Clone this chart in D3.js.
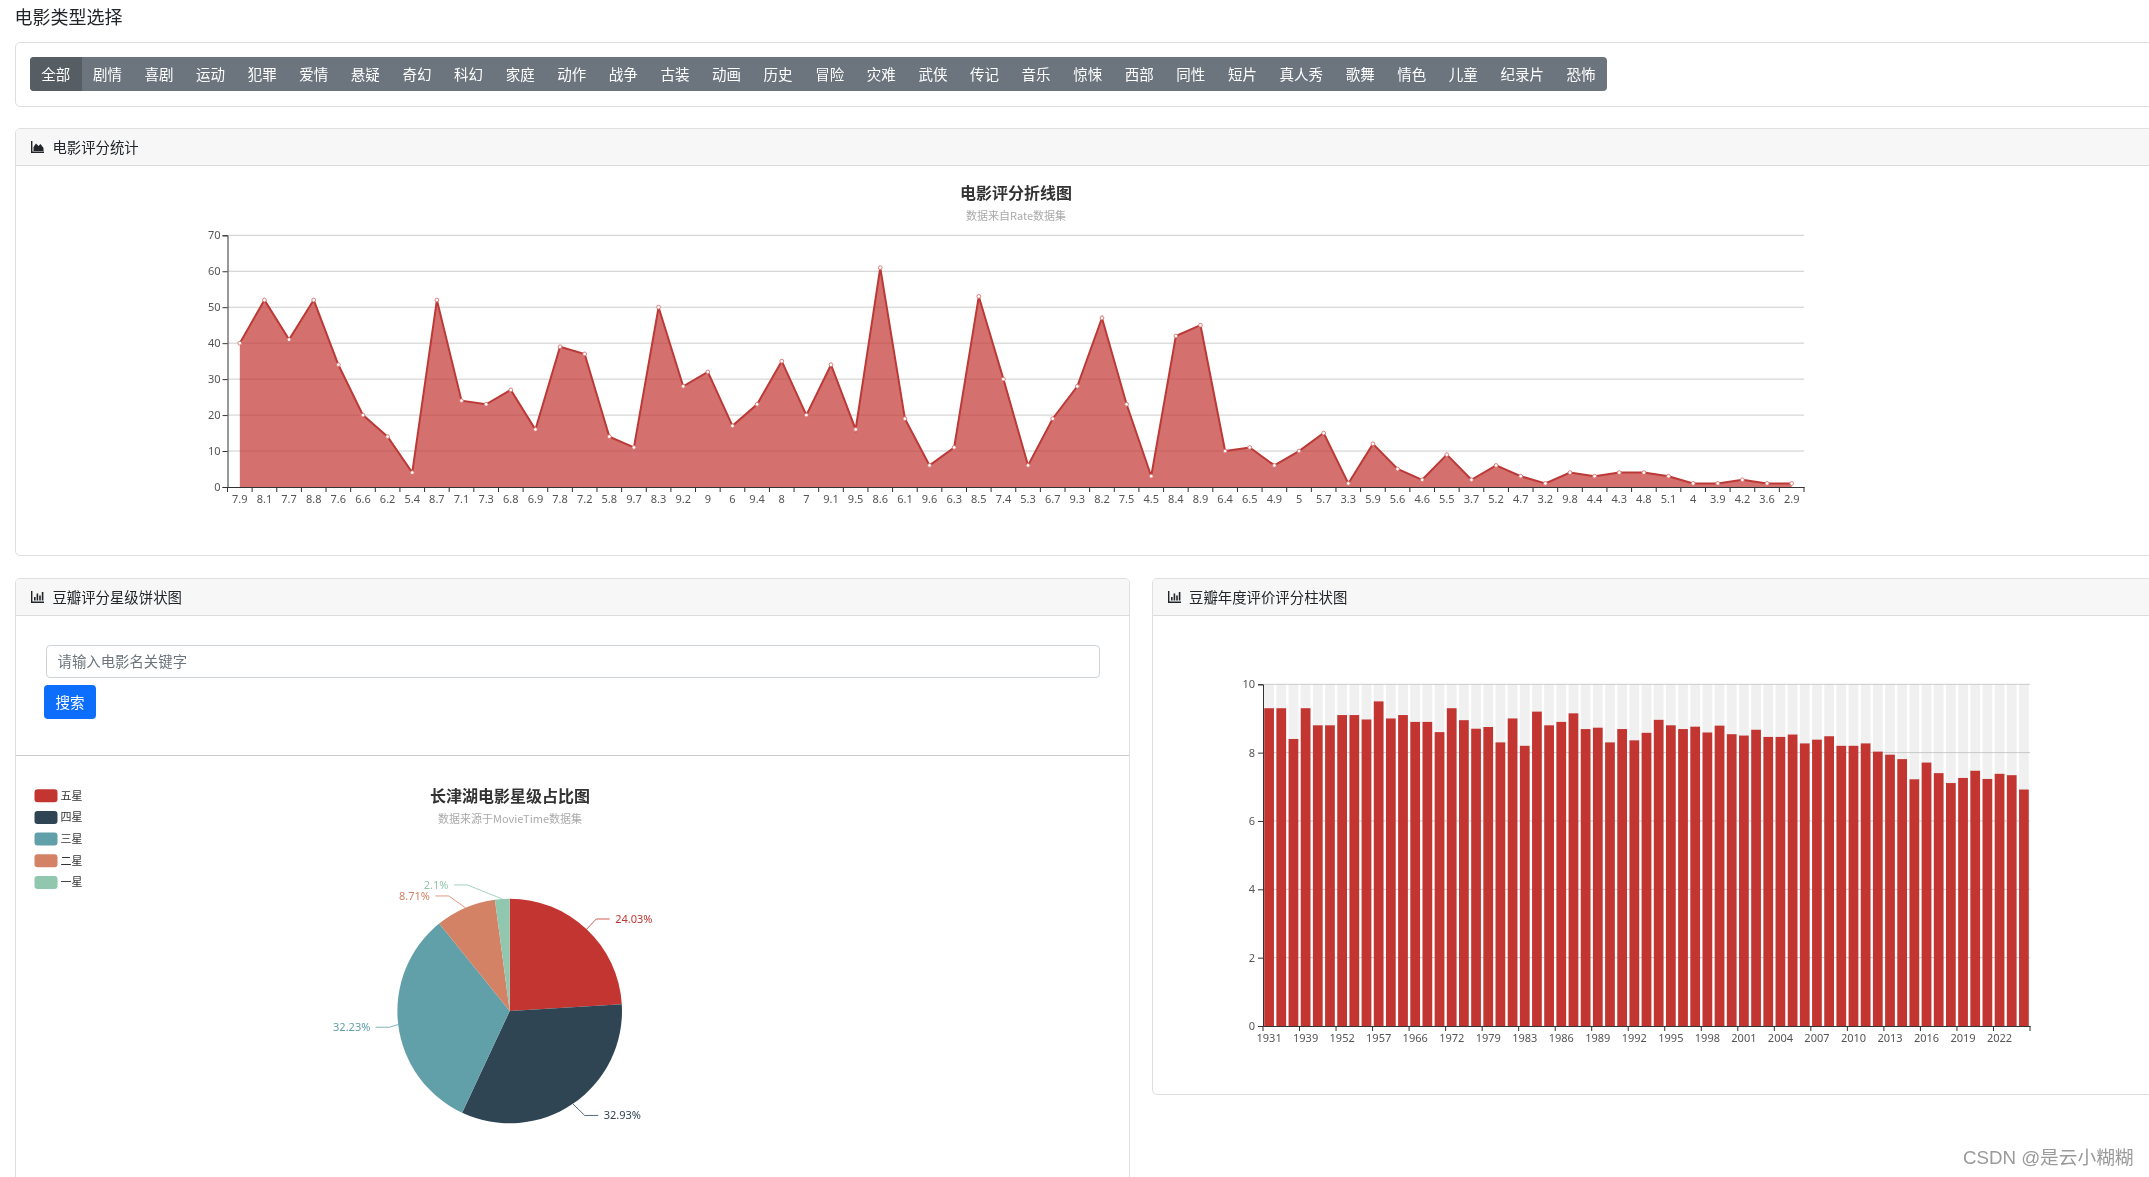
<!DOCTYPE html>
<html lang="zh">
<head>
<meta charset="utf-8">
<title>电影评分</title>
<script src="https://cdn.jsdelivr.net/npm/d3@7"></script>
<style>
  html, body { margin: 0; padding: 0; background: #fff; }
  body { width: 2149px; height: 1177px; overflow: hidden; position: relative;
         font-family: "Noto Sans CJK SC", "Noto Sans", sans-serif; color: #212529;
         filter: blur(0.4px); }
  .abs { position: absolute; box-sizing: border-box; }
  .card { border: 1.4px solid #dfdfdf; border-radius: 5px; background: #fff; }
  .card-head { left: 0; right: 0; top: 0; height: 37px; background: #f7f7f7;
               border-bottom: 1.4px solid #dcdcdc; border-radius: 4px 4px 0 0; }
  .card-title { font-size: 14.4px; line-height: 20px; white-space: nowrap; }
  .btn-group { display: flex; background: #6c757d; border-radius: 4px; overflow: hidden; }
  .btn-group div { color: #fff; font-size: 14.5px; line-height: 33.7px; padding: 0 11.3px;
                   white-space: nowrap; }
  .btn-group div.active { background: #565e64; }
  svg { position: absolute; left: 0; top: 0; }
  svg text { font-family: "Noto Sans", "Noto Sans CJK SC", sans-serif; }
  .tick text { font-size: 11px; fill: #555; }
  .chart-title { font-family: "Noto Sans CJK SC", sans-serif; font-size: 16px; font-weight: 700;
                 fill: #333; text-anchor: middle; }
  .chart-sub { font-family: "Noto Sans CJK SC", sans-serif; font-size: 11px; fill: #aaa;
               text-anchor: middle; }
</style>
</head>
<body>
<script>
// ---- data ----
const genreNames = ['全部', '剧情', '喜剧', '运动', '犯罪', '爱情', '悬疑', '奇幻', '科幻', '家庭',
  '动作', '战争', '古装', '动画', '历史', '冒险', '灾难', '武侠', '传记', '音乐',
  '惊悚', '西部', '同性', '短片', '真人秀', '歌舞', '情色', '儿童', '纪录片', '恐怖'];

const rateLabels = ['7.9', '8.1', '7.7', '8.8', '7.6', '6.6', '6.2', '5.4', '8.7', '7.1', '7.3', '6.8', '6.9',
  '7.8', '7.2', '5.8', '9.7', '8.3', '9.2', '9', '6', '9.4', '8', '7', '9.1', '9.5', '8.6', '6.1', '9.6', '6.3',
  '8.5', '7.4', '5.3', '6.7', '9.3', '8.2', '7.5', '4.5', '8.4', '8.9', '6.4', '6.5', '4.9', '5', '5.7', '3.3',
  '5.9', '5.6', '4.6', '5.5', '3.7', '5.2', '4.7', '3.2', '9.8', '4.4', '4.3', '4.8', '5.1', '4', '3.9', '4.2',
  '3.6', '2.9'];
const rateCounts = [40, 52, 41, 52, 34, 20, 14, 4, 52, 24, 23, 27, 16,
  39, 37, 14, 11, 50, 28, 32, 17, 23, 35, 20, 34, 16, 61, 19, 6, 11,
  53, 30, 6, 19, 28, 47, 23, 3, 42, 45, 10, 11, 6, 10, 15, 1,
  12, 5, 2, 9, 2, 6, 3, 1, 4, 3, 4, 4, 3, 1, 1, 2,
  1, 1];

const starLabels = ['五星', '四星', '三星', '二星', '一星'];
const starShares = [24.03, 32.93, 32.23, 8.71, 2.1];

// only every third year is printed in the picture, the ones in between are guesses
const barYears = [1931, 1933, 1936, 1939, 1941, 1948, 1952, 1953, 1955, 1957, 1959, 1964,
  1966, 1968, 1971, 1972, 1974, 1975, 1979, 1980, 1982, 1983, 1984, 1985,
  1986, 1987, 1988, 1989, 1990, 1991, 1992, 1993, 1994, 1995, 1996, 1997, 1998, 1999, 2000,
  2001, 2002, 2003, 2004, 2005, 2006, 2007, 2008, 2009, 2010, 2011, 2012, 2013, 2014, 2015,
  2016, 2017, 2018, 2019, 2020, 2021, 2022, 2023, 2024];
const barScores = [9.3, 9.3, 8.4, 9.3, 8.8, 8.8, 9.1, 9.1, 8.97, 9.5, 9.0, 9.1,
  8.9, 8.9, 8.6, 9.3, 8.95, 8.7, 8.75, 8.3, 9.0, 8.2, 9.2, 8.8,
  8.9, 9.15, 8.69, 8.73, 8.3, 8.69, 8.36, 8.58, 8.96, 8.8, 8.69, 8.76, 8.59, 8.79, 8.54,
  8.5, 8.67, 8.46, 8.46, 8.53, 8.27, 8.38, 8.48, 8.2, 8.2, 8.27, 8.03, 7.94, 7.81, 7.22,
  7.71, 7.4, 7.11, 7.26, 7.47, 7.23, 7.38, 7.34, 6.92];

const palette = ['#c23531', '#2f4554', '#61a0a8', '#d48265', '#91c7ae'];
const axisColor = '#333';
const gridColor = '#ccc';

const body = d3.select('body');

// ---- page furniture ----
const place = (sel, left, top, width, height) => sel
  .style('left', left + 'px').style('top', top + 'px')
  .style('width', width === null ? null : width + 'px')
  .style('height', height === null ? null : height + 'px');

const iconPaths = {
  area: 'M0 0V12H13V10.6H1.4V0ZM2.5 10V6L5 2.5L7.5 5L9.5 3L12.5 7V10Z',
  bars: 'M0 0V12H13V10.6H1.4V0ZM3 9.6V6H4.6V9.6ZM5.6 9.6V2.5H7.2V9.6ZM8.2 9.6V4.5H9.8V9.6ZM10.8 9.6V1H12.4V9.6Z'
};

const addCard = (left, top, width, height, title, icon) => {
  const card = place(body.append('div').attr('class', 'abs card'), left, top, width, height);
  if (title) {
    card.append('div').attr('class', 'abs card-head');
    const svg = card.append('svg').attr('width', 14).attr('height', 13)
      .style('left', '14.5px').style('top', '12px');
    svg.append('path').attr('d', iconPaths[icon]).attr('fill', '#212529');
    place(card.append('div').attr('class', 'abs card-title'), 36, 7.6, null, null).text(title);
  }
  return card;
};

place(body.append('div').attr('class', 'abs'), 14.6, 2.8, null, null)
  .style('font-size', '18px').style('line-height', '26px')
  .text('电影类型选择');

addCard(15.4, 42.3, 2200, 64.4);
addCard(15.4, 128.3, 2200, 428, '电影评分统计', 'area');
addCard(15.4, 578.3, 1114.6, 700, '豆瓣评分星级饼状图', 'bars');
addCard(1152, 578.3, 1100, 517, '豆瓣年度评价评分柱状图', 'bars');

const btnGroup = place(body.append('div').attr('class', 'abs btn-group'), 30, 57, null, 33.7);
btnGroup.selectAll('div').data(genreNames).enter().append('div')
  .attr('class', (d, i) => i === 0 ? 'active' : null)
  .text(d => d);

place(body.append('div').attr('class', 'abs'), 45.5, 645, 1054.5, 33)
  .style('border', '1.4px solid #ced4da').style('border-radius', '4px')
  .style('padding-left', '11px').style('font-size', '14.4px').style('line-height', '30px')
  .style('color', '#6c757d').text('请输入电影名关键字');

place(body.append('div').attr('class', 'abs'), 44, 685, 52, 34)
  .style('background', '#0d6efd').style('border-radius', '4px').style('color', '#fff')
  .style('font-size', '14.5px').style('line-height', '34px').style('text-align', 'center')
  .text('搜索');

place(body.append('div').attr('class', 'abs'), 16, 755, 1113, 1.4).style('background', '#ccc');

place(body.append('div').attr('class', 'abs'), 1963, 1145, null, null)
  .style('font-family', '"Liberation Sans", "Noto Sans CJK SC", sans-serif')
  .style('font-size', '18.7px').style('line-height', '25px').style('color', '#9a9a9a')
  .style('white-space', 'nowrap').text('CSDN @是云小糊糊');

const svg = body.append('svg').attr('width', 2149).attr('height', 1177);

// cleans an axis selection up the way the reference looks
const styleAxis = (g) => {
  g.select('.domain').attr('stroke', axisColor);
  g.selectAll('.tick line').attr('stroke', axisColor);
};

// ---- area line chart ----
const lineBox = { left: 227.5, right: 1804, top: 235.3, bottom: 487 };
const lineX = d3.scaleBand().domain(rateLabels).range([lineBox.left, lineBox.right]);
const lineY = d3.scaleLinear().domain([0, 70]).range([lineBox.bottom, lineBox.top]);
const lineTicks = d3.range(0, 71, 10);

const lineChart = svg.append('g');
lineChart.append('text').attr('class', 'chart-title').attr('x', 1016).attr('y', 198.5).text('电影评分折线图');
lineChart.append('text').attr('class', 'chart-sub').attr('x', 1016).attr('y', 219.5).text('数据来自Rate数据集');

lineChart.append('g').selectAll('line').data(lineTicks.slice(1)).enter().append('line')
  .attr('x1', lineBox.left).attr('x2', lineBox.right)
  .attr('y1', d => lineY(d)).attr('y2', d => lineY(d))
  .attr('stroke', gridColor);

const centre = (d) => lineX(d) + lineX.bandwidth() / 2;
const area = d3.area()
  .x(d => centre(d.rate))
  .y0(lineY(0))
  .y1(d => lineY(d.count));
const linePath = d3.line()
  .x(d => centre(d.rate))
  .y(d => lineY(d.count));
const linePoints = rateLabels.map((rate, i) => ({ rate: rate, count: rateCounts[i] }));

lineChart.append('path').datum(linePoints).attr('d', area)
  .attr('fill', palette[0]).attr('fill-opacity', 0.7);
lineChart.append('path').datum(linePoints).attr('d', linePath)
  .attr('fill', 'none').attr('stroke', '#bb3a37').attr('stroke-width', 2);
lineChart.append('g').selectAll('circle').data(linePoints).enter().append('circle')
  .attr('cx', d => centre(d.rate)).attr('cy', d => lineY(d.count)).attr('r', 1.9)
  .attr('fill', '#fff').attr('stroke', '#d9726f').attr('stroke-width', 0.9);

lineChart.append('g')
  .attr('transform', 'translate(' + lineBox.left + ',0)')
  .call(d3.axisLeft(lineY).tickValues(lineTicks).tickSize(5).tickPadding(2).tickFormat(d3.format('d')))
  .call(styleAxis);

lineChart.append('g')
  .attr('transform', 'translate(0,' + lineBox.bottom + ')')
  .call(d3.axisBottom(lineX).tickSize(0).tickPadding(8).tickSizeOuter(0))
  .call(styleAxis);
// ticks sit on the band edges, not under the labels
lineChart.append('g').selectAll('line').data(rateLabels.concat([null])).enter().append('line')
  .attr('x1', d => d === null ? lineBox.right : lineX(d))
  .attr('x2', d => d === null ? lineBox.right : lineX(d))
  .attr('y1', lineBox.bottom).attr('y2', lineBox.bottom + 5)
  .attr('stroke', axisColor);

// ---- pie ----
const pieCentre = { x: 509.7, y: 1011 };
const pieRadius = 112.3;
const pieChart = svg.append('g');
pieChart.append('text').attr('class', 'chart-title').attr('x', 510).attr('y', 802).text('长津湖电影星级占比图');
pieChart.append('text').attr('class', 'chart-sub').attr('x', 510).attr('y', 823).text('数据来源于MovieTime数据集');

const legend = pieChart.append('g').selectAll('g').data(starLabels).enter().append('g')
  .attr('transform', (d, i) => 'translate(34.5,' + (789.3 + i * 21.65) + ')');
legend.append('rect').attr('width', 23).attr('height', 13).attr('rx', 3)
  .attr('fill', (d, i) => palette[i]);
legend.append('text').attr('x', 26).attr('y', 10.5)
  .style('font-family', '"Noto Sans CJK SC", sans-serif').style('font-size', '11px')
  .attr('fill', '#333').text(d => d);

const slices = d3.pie().sort(null).value(d => d)(starShares);
const pieG = pieChart.append('g').attr('transform', 'translate(' + pieCentre.x + ',' + pieCentre.y + ')');
pieG.selectAll('path').data(slices).enter().append('path')
  .attr('d', d3.arc().innerRadius(0).outerRadius(pieRadius))
  .attr('fill', (d, i) => palette[i]);

// labels: elbow out from the rim, the two small ones pushed apart so they do not collide
const rimArc = d3.arc().innerRadius(pieRadius).outerRadius(pieRadius);
const elbowArc = d3.arc().innerRadius(pieRadius + 14).outerRadius(pieRadius + 14);
const labelDodge = [[0, 0], [4, 0], [5, 1], [-11, 1], [-34, 0]];
const isRight = (d) => (d.startAngle + d.endAngle) / 2 < Math.PI;

slices.forEach((d, i) => {
  const rim = rimArc.centroid(d);
  const elbow = elbowArc.centroid(d);
  elbow[0] += labelDodge[i][0];
  elbow[1] += labelDodge[i][1];
  const side = isRight(d) ? 1 : -1;
  const end = [elbow[0] + side * 13.5, elbow[1]];
  pieG.append('path').attr('d', d3.line()([rim, elbow, end]))
    .attr('fill', 'none').attr('stroke', palette[i]).attr('stroke-opacity', 0.8);
  pieG.append('text').attr('x', end[0] + side * 5.5).attr('y', end[1])
    .attr('dy', '0.36em').attr('text-anchor', side > 0 ? 'start' : 'end')
    .style('font-size', '11px').attr('fill', palette[i])
    .text(starShares[i] + '%');
});

// ---- bars ----
const barBox = { left: 1263, right: 2030, top: 684.3, bottom: 1026 };
const barX = d3.scaleBand().domain(barYears).range([barBox.left, barBox.right]).paddingInner(0.2).paddingOuter(0.1);
const barY = d3.scaleLinear().domain([0, 10]).range([barBox.bottom, barBox.top]);
const barTicks = d3.range(0, 11, 2);
const shownYears = barYears.filter((d, i) => i % 3 === 0);

const barChart = svg.append('g');
barChart.append('g').selectAll('line').data(barTicks.slice(1)).enter().append('line')
  .attr('x1', barBox.left).attr('x2', barBox.right)
  .attr('y1', d => barY(d)).attr('y2', d => barY(d))
  .attr('stroke', gridColor);

barChart.append('g').selectAll('rect').data(barYears).enter().append('rect')
  .attr('x', d => barX(d)).attr('width', barX.bandwidth())
  .attr('y', barBox.top).attr('height', barBox.bottom - barBox.top)
  .attr('fill', 'rgba(180,180,180,0.2)');
barChart.append('g').selectAll('rect').data(barScores).enter().append('rect')
  .attr('x', (d, i) => barX(barYears[i])).attr('width', barX.bandwidth())
  .attr('y', d => barY(d)).attr('height', d => barBox.bottom - barY(d))
  .attr('fill', palette[0]);

barChart.append('g')
  .attr('transform', 'translate(' + barBox.left + ',0)')
  .call(d3.axisLeft(barY).tickValues(barTicks).tickSize(5).tickPadding(3).tickFormat(d3.format('d')))
  .call(styleAxis);

barChart.append('g')
  .attr('transform', 'translate(0,' + barBox.bottom + ')')
  .call(d3.axisBottom(barX).tickValues(shownYears).tickSize(0).tickPadding(8).tickSizeOuter(0))
  .call(styleAxis);
barChart.append('g').selectAll('line').data(shownYears.concat([null])).enter().append('line')
  .attr('x1', d => d === null ? barBox.right : barX(d) - barX.bandwidth() * 0.125)
  .attr('x2', d => d === null ? barBox.right : barX(d) - barX.bandwidth() * 0.125)
  .attr('y1', barBox.bottom).attr('y2', barBox.bottom + 5)
  .attr('stroke', axisColor);
</script>
</body>
</html>
